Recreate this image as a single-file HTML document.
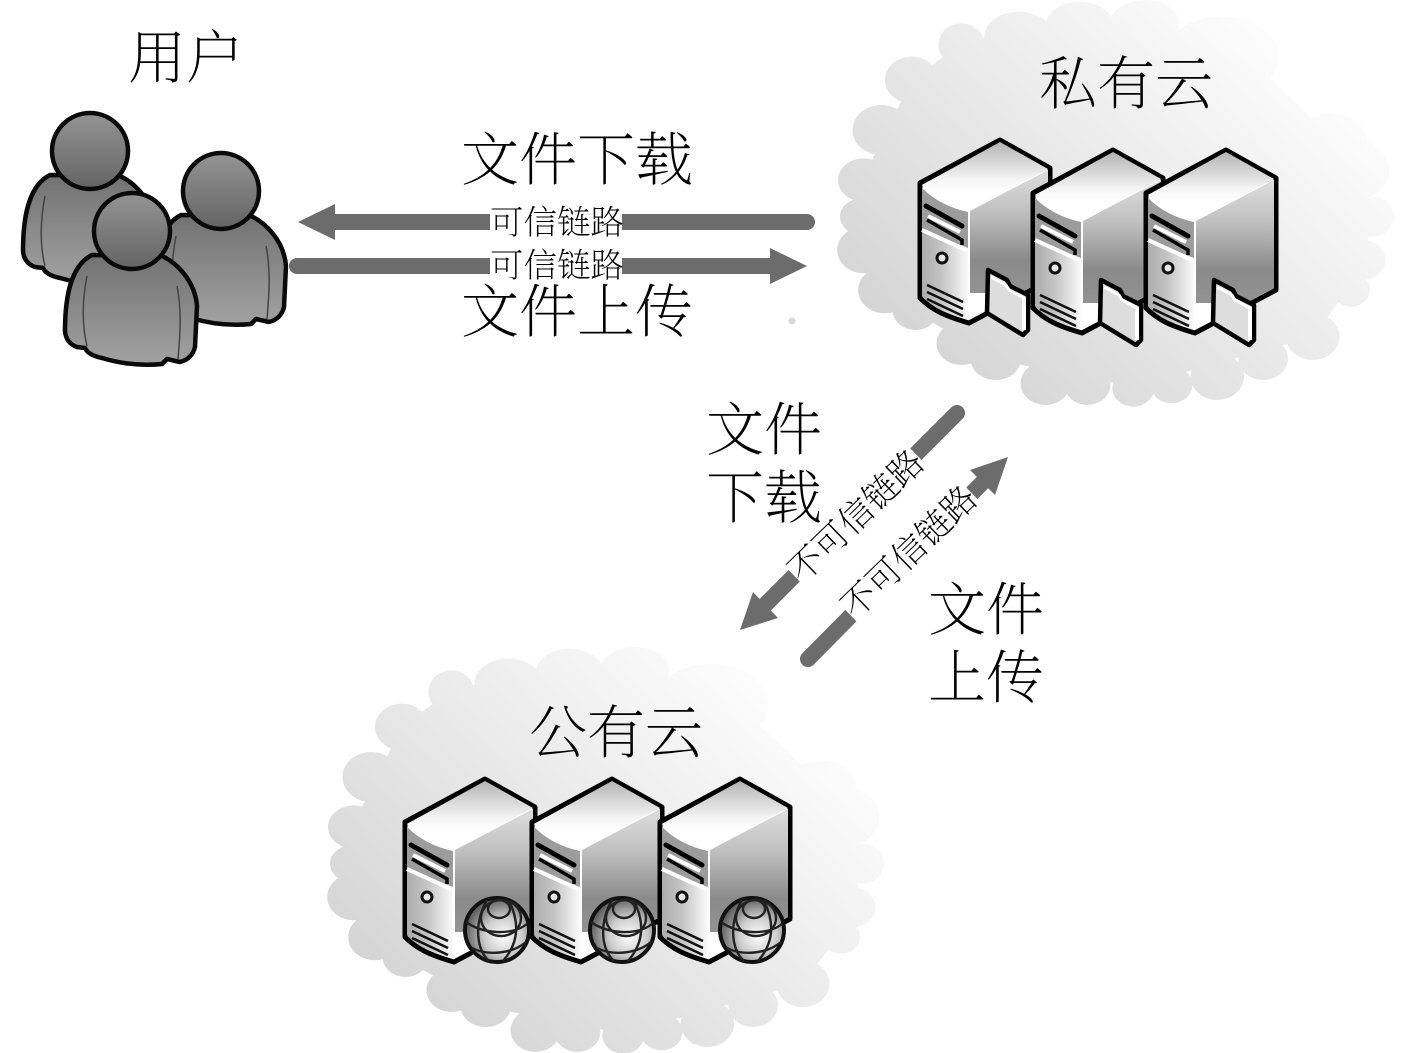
<!DOCTYPE html>
<html><head><meta charset="utf-8"><style>
html,body{margin:0;padding:0;background:#fff;width:1417px;height:1053px;overflow:hidden}
svg{display:block}
text{font-family:"Liberation Serif","Noto Serif CJK SC",serif;font-weight:200;fill:#000}
.b{font-size:58px}.s{font-size:33.5px}.r{font-size:34.5px}
</style></head><body>
<svg width="1417" height="1053" viewBox="0 0 1417 1053" xmlns="http://www.w3.org/2000/svg">
<defs>
<linearGradient id="cg" gradientUnits="userSpaceOnUse" x1="1000" y1="-195" x2="-136" y2="941"><stop offset="0" stop-color="#fff"/><stop offset="1" stop-color="#cfcfcf"/></linearGradient>
<linearGradient id="top" gradientUnits="userSpaceOnUse" x1="0" y1="0" x2="0" y2="52"><stop offset="0" stop-color="#b0b0b0"/><stop offset=".75" stop-color="#f4f4f4"/><stop offset="1" stop-color="#fff"/></linearGradient>
<linearGradient id="side" gradientUnits="userSpaceOnUse" x1="0" y1="30" x2="0" y2="150"><stop offset="0" stop-color="#ddd"/><stop offset=".35" stop-color="#c0c0c0"/><stop offset=".75" stop-color="#8a8a8a"/><stop offset="1" stop-color="#929292"/></linearGradient>
<linearGradient id="front" gradientUnits="userSpaceOnUse" x1="-80" y1="0" x2="-32" y2="0"><stop offset="0" stop-color="#aaa"/><stop offset=".45" stop-color="#c4c4c4"/><stop offset="1" stop-color="#fafafa"/></linearGradient>
<linearGradient id="body" x1="0" y1="0" x2="0" y2="1"><stop offset="0" stop-color="#727272"/><stop offset="1" stop-color="#a2a2a2"/></linearGradient>
<linearGradient id="head" x1="0" y1="0" x2="0" y2="1"><stop offset="0" stop-color="#949494"/><stop offset="1" stop-color="#646464"/></linearGradient>
<radialGradient id="gl" cx=".6" cy=".6" r=".6"><stop offset="0" stop-color="#fff"/><stop offset=".5" stop-color="#ccc"/><stop offset="1" stop-color="#5e5e5e"/></radialGradient>
<g id="cloud" fill="url(#cg)">
<polygon points="370,130 700,40 1100,150 1420,500 1440,780 1290,1010 820,1160 460,1080 240,930 110,750 110,540 240,240"/>
<ellipse cx="370" cy="135" rx="60" ry="65"/><ellipse cx="520" cy="110" rx="90" ry="75"/><ellipse cx="680" cy="80" rx="90" ry="75"/><ellipse cx="850" cy="70" rx="90" ry="70"/><ellipse cx="1050" cy="170" rx="150" ry="120"/>
<ellipse cx="240" cy="240" rx="70" ry="70"/><ellipse cx="160" cy="390" rx="75" ry="75"/><ellipse cx="115" cy="540" rx="68" ry="65"/><ellipse cx="110" cy="650" rx="58" ry="55"/><ellipse cx="115" cy="750" rx="70" ry="70"/><ellipse cx="170" cy="870" rx="70" ry="70"/><ellipse cx="250" cy="930" rx="60" ry="60"/>
<ellipse cx="370" cy="1030" rx="65" ry="65"/><ellipse cx="460" cy="1080" rx="65" ry="60"/><ellipse cx="590" cy="1150" rx="65" ry="65"/><ellipse cx="700" cy="1155" rx="60" ry="60"/><ellipse cx="820" cy="1165" rx="55" ry="55"/><ellipse cx="920" cy="1155" rx="55" ry="55"/><ellipse cx="1040" cy="1130" rx="70" ry="70"/><ellipse cx="1160" cy="1075" rx="65" ry="65"/><ellipse cx="1290" cy="1010" rx="70" ry="70"/>
<ellipse cx="1390" cy="870" rx="50" ry="50"/><ellipse cx="1420" cy="780" rx="60" ry="60"/><ellipse cx="1445" cy="650" rx="58" ry="60"/><ellipse cx="1400" cy="510" rx="90" ry="90"/><ellipse cx="1340" cy="420" rx="90" ry="80"/>
</g>
<g id="srv">
<path d="M0,0 L50,28 L50,140 L-31,183 C-55,176 -68,170 -80,158 L-80,43 Z" fill="#fff" stroke="#000" stroke-width="5" stroke-linejoin="round"/>
<path d="M-30,71 L48,30 L48,138 L20,153 L-30,153 Z" fill="url(#side)"/>
<path d="M0,2 L48,29 L-31,71 Q-60,65 -78,45 Z" fill="url(#top)"/>
<path d="M-78,48 Q-60,66 -32,72 L-32,180 C-55,173 -68,167 -78,156 Z" fill="url(#front)"/>
<path d="M-78,48 Q-60,66 -32,72 L-32,108 L-78,90 Z" fill="#9c9c9c"/>
<path d="M-72,76 L-40,92 M-78,90 L-34,110" stroke="#fff" stroke-width="4" fill="none"/>
<path d="M-74,66 L-38,86" stroke="#000" stroke-width="5" stroke-linecap="round"/>
<path d="M-73,80 L-38,100 L-38,105" stroke="#000" stroke-width="3.5" fill="none"/>
<circle cx="-58" cy="118" r="5" fill="#e8e8e8" stroke="#111" stroke-width="3"/>
<path d="M-73,150 L-37,167 M-73,157 L-37,174 M-73,164 L-37,181" stroke="#111" stroke-width="2.6" transform="translate(0,-5)"/>
</g>
<g id="fold">
<path d="M-12,130 L7,140 L10,146 L28,155 L28,190 L23,195 L-13,173 Z" fill="#ddd" stroke="#000" stroke-width="4.5" stroke-linejoin="round"/>
<path d="M24,157 L24,190" stroke="#fff" stroke-width="4"/>
<path d="M-9,137 L6,145 L9,150 L24,158" stroke="#fff" stroke-width="3" fill="none"/>
</g>
<g id="globe">
<circle r="32" fill="url(#gl)" stroke="#111" stroke-width="4"/>
<g fill="none" stroke="#222" stroke-width="2.4">
<ellipse cx="4" cy="-12" rx="20" ry="18"/><ellipse cx="2" cy="-21" rx="11" ry="9"/>
<path d="M-31,-8 C-15,4 15,6 30,-6 M-25,18 C-10,26 15,24 29,12"/>
<path d="M-10,-30 C-24,-5 -20,20 -8,31 M12,-29 C24,-5 20,15 6,31"/>
</g>
</g>
<g id="person">
<path d="M-40,24 C-60,34 -67,62 -67,100 Q-66,112 -55,116 L-47,117 Q-44,124 -30,127 C-10,133 10,135 30,133 L35,128 L48,131 Q60,128 63,116 L65,75 C63,50 45,32 30,25 Z" fill="url(#body)" stroke="#0a0a0a" stroke-width="4.5" stroke-linejoin="round"/>
<path d="M-45,45 C-50,70 -50,95 -45,115 M45,55 C50,80 48,105 46,128" fill="none" stroke="#444" stroke-width="1.5"/>
<circle r="38" fill="url(#head)" stroke="#0a0a0a" stroke-width="4.5"/>
</g>
</defs>

<use href="#cloud" transform="translate(820,0) scale(.382,.3333)"/>
<use href="#cloud" transform="translate(310,647) scale(.382,.3333)"/>

<use href="#person" x="90" y="151"/>
<use href="#person" x="221" y="191"/>
<use href="#person" x="132" y="231"/>

<use href="#srv" x="1000" y="140"/><use href="#fold" x="1000" y="140"/>
<use href="#srv" x="1113" y="150"/><use href="#fold" x="1113" y="150"/>
<use href="#srv" x="1226" y="150"/><use href="#fold" x="1226" y="150"/>

<use href="#srv" x="485" y="779"/><use href="#srv" x="612" y="779"/><use href="#srv" x="740" y="779"/>
<use href="#globe" x="497" y="930"/><use href="#globe" x="622" y="930"/><use href="#globe" x="752" y="930"/>

<g fill="#6c6c6c" stroke="none">
<path d="M335,222 L807,222" stroke="#6c6c6c" stroke-width="16" stroke-linecap="round"/>
<polygon points="298,222 335,204 335,240"/>
<path d="M297,266 L770,266" stroke="#6c6c6c" stroke-width="16" stroke-linecap="round"/>
<polygon points="807,266 770,248 770,284"/>
<path d="M957,413 L762,608" stroke="#6c6c6c" stroke-width="16" stroke-linecap="round"/>
<polygon points="740,630 753,592 778,618"/>
<path d="M808,659 L984,481" stroke="#6c6c6c" stroke-width="16" stroke-linecap="round"/>
<polygon points="1008,457 970,470 995,495"/>
</g>
<rect x="490" y="205" width="132" height="36" fill="#fff"/>
<rect x="490" y="248" width="132" height="36" fill="#fff"/>
<g transform="rotate(-44 856 516)"><rect x="770" y="498" width="172" height="36" fill="#fff"/><text class="r" x="856" y="528" text-anchor="middle">不可信链路</text></g>
<g transform="rotate(-44 909 552)"><rect x="823" y="534" width="172" height="36" fill="#fff"/><text class="r" x="909" y="564" text-anchor="middle">不可信链路</text></g>

<text class="b" x="128" y="78">用户</text>
<text class="b" x="1039" y="104">私有云</text>
<text class="b" x="529" y="753">公有云</text>
<text class="b" x="461" y="180">文件下载</text>
<text class="b" x="461" y="332">文件上传</text>
<text class="s" x="490" y="234">可信链路</text>
<text class="s" x="490" y="277">可信链路</text>
<text class="b" x="706" y="450">文件</text>
<text class="b" x="706" y="518">下载</text>
<text class="b" x="928" y="630">文件</text>
<text class="b" x="928" y="698">上传</text>
<circle cx="792" cy="321" r="3.5" fill="#d8d8d8"/>
</svg>
</body></html>
